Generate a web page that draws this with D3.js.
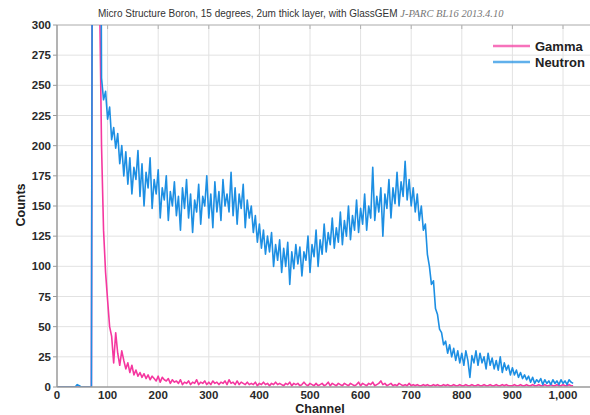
<!DOCTYPE html>
<html>
<head>
    <title>Micro Structure Boron - GlassGEM</title>
    <script src="https://d3js.org/d3.v7.min.js"></script>
    <style>
        body { margin: 0; background: #fff; }
        svg { display: block; font-family: "Liberation Sans", Arial, sans-serif; }
        .grid line { stroke: #e2e2e2; stroke-width: 1; }
        .tick-label { font-size: 11.5px; font-weight: bold; fill: #2a2a2a; }
        .axis-title { font-size: 12.5px; font-weight: bold; fill: #222; }
        .legend-text { font-size: 13px; font-weight: bold; fill: #222; }
    </style>
</head>
<body>
    <div id="chart"></div>
    <script>
        // channel bins: every 4th channel, 0 .. 1020
        const channelStep = 4;

        // counts per bin, 16 bins (64 channels) per row
        const neutronCounts = [
            0, 0, 0, 0, 0, 0, 0, 0, 0, 0, 2, 1, 0, 0, 0, 0,
            0, 0, 900, 900, 900, 700, 256, 238, 245, 222, 232, 205, 215, 198, 210, 185,
            200, 175, 195, 168, 190, 160, 182, 172, 196, 158, 185, 150, 178, 165, 190, 148,
            172, 160, 180, 140, 165, 155, 175, 138, 162, 150, 170, 142, 158, 130, 165, 148,
            172, 140, 160, 128, 155, 145, 168, 135, 158, 150, 175, 140, 160, 132, 170, 145,
            162, 138, 172, 150, 160, 145, 178, 142, 165, 135, 160, 148, 168, 132, 155, 140,
            150, 128, 142, 120, 135, 115, 130, 110, 125, 112, 128, 100, 118, 105, 122, 95,
            115, 100, 120, 85, 112, 98, 118, 102, 116, 92, 112, 105, 125, 95, 118, 108,
            130, 100, 122, 110, 135, 112, 128, 118, 140, 115, 132, 120, 145, 118, 138, 125,
            150, 122, 142, 130, 155, 128, 148, 135, 160, 130, 150, 140, 182, 138, 158, 145,
            165, 125, 160, 148, 172, 140, 165, 152, 178, 150, 170, 158, 187, 155, 172, 150,
            165, 145, 160, 138, 150, 130, 135, 110, 100, 85, 88, 65, 60, 48, 45, 35,
            38, 28, 35, 25, 32, 22, 30, 20, 28, 18, 30, 22, 8, 26, 20, 30,
            18, 28, 20, 25, 15, 28, 18, 24, 15, 22, 14, 25, 12, 20, 14, 18,
            10, 16, 10, 14, 8, 12, 7, 10, 6, 9, 4, 8, 3, 6, 4, 7,
            2, 6, 3, 5, 2, 6, 3, 5, 2, 6, 3, 5, 2, 6, 4, 3
        ];

        const gammaCounts = [
            0, 0, 0, 0, 0, 0, 0, 0, 0, 0, 0, 0, 0, 0, 0, 0,
            0, 0, 900, 900, 900, 330, 200, 130, 95, 72, 50, 42, 20, 45, 28, 18,
            30, 22, 15, 20, 12, 18, 10, 14, 9, 12, 8, 11, 7, 10, 6, 9,
            7, 5, 9, 4, 8, 6, 5, 7, 3, 6, 4, 5, 3, 6, 2, 4,
            3, 5, 2, 4, 3, 6, 2, 4, 3, 5, 2, 4, 2, 5, 3, 4,
            2, 4, 3, 5, 2, 6, 3, 4, 2, 5, 2, 4, 3, 2, 4, 2,
            3, 2, 4, 1, 3, 2, 4, 2, 3, 1, 3, 2, 4, 2, 3, 2,
            1, 3, 2, 4, 1, 3, 2, 3, 1, 2, 4, 2, 1, 3, 2, 1,
            3, 1, 2, 3, 1, 2, 4, 1, 3, 2, 1, 3, 2, 1, 3, 2,
            1, 3, 2, 1, 2, 4, 1, 3, 2, 1, 3, 2, 4, 1, 2, 3,
            5, 2, 3, 1, 2, 3, 1, 2, 1, 3, 2, 1, 2, 1, 3, 1,
            2, 1, 2, 1, 1, 2, 1, 2, 1, 1, 2, 1, 2, 1, 1, 2,
            1, 2, 1, 1, 2, 1, 1, 2, 1, 1, 2, 1, 1, 2, 1, 1,
            2, 1, 1, 2, 1, 1, 2, 1, 1, 2, 1, 1, 2, 1, 2, 1,
            1, 1, 2, 1, 1, 2, 1, 1, 2, 1, 1, 2, 1, 1, 2, 1,
            1, 2, 1, 1, 2, 1, 1, 2, 1, 1, 2, 1, 1, 2, 1, 1
        ];

        const xTicks = [0, 100, 200, 300, 400, 500, 600, 700, 800, 900, 1000];
        const yTicks = [0, 25, 50, 75, 100, 125, 150, 175, 200, 225, 250, 275, 300];
        const seriesNames = ["Gamma", "Neutron"];
        const seriesColors = ["#f5379f", "#1d8fe3"];

        const width = 590, height = 415;
        const margin = {top: 25, right: 0, bottom: 28, left: 57};

        var xScale = d3.scaleLinear().domain([0, 1060]).range([margin.left, margin.left + 1060 * 0.506]);
        var yScale = d3.scaleLinear().domain([0, 300]).range([height - margin.bottom, margin.top]);

        var svg = d3.select("#chart").append("svg")
            .attr("width", width)
            .attr("height", height);

        svg.append("defs").append("clipPath")
            .attr("id", "plot-clip")
            .append("rect")
            .attr("x", margin.left)
            .attr("y", margin.top)
            .attr("width", width - margin.left)
            .attr("height", yScale(0) - margin.top);

        // grid
        var grid = svg.append("g").attr("class", "grid");
        grid.selectAll(".vline")
            .data(xTicks.slice(1))
            .enter().append("line")
            .attr("x1", function(d) { return xScale(d); })
            .attr("x2", function(d) { return xScale(d); })
            .attr("y1", margin.top)
            .attr("y2", yScale(0));
        grid.selectAll(".hline")
            .data(yTicks.slice(1))
            .enter().append("line")
            .attr("x1", margin.left)
            .attr("x2", width)
            .attr("y1", function(d) { return yScale(d); })
            .attr("y2", function(d) { return yScale(d); });

        // top border with little inner ticks
        svg.append("line")
            .attr("x1", margin.left).attr("x2", width)
            .attr("y1", margin.top).attr("y2", margin.top)
            .style("stroke", "#b8b8b8").style("stroke-width", 1);
        svg.selectAll(".top-tick")
            .data(xTicks.slice(1))
            .enter().append("line")
            .attr("x1", function(d) { return xScale(d); })
            .attr("x2", function(d) { return xScale(d); })
            .attr("y1", margin.top)
            .attr("y2", margin.top + 4)
            .style("stroke", "#b0b0b0");

        // series
        var series = [gammaCounts, neutronCounts];
        var line = d3.line()
            .x(function(d, i) { return xScale(i * channelStep); })
            .y(function(d) { return yScale(d); });

        svg.append("g")
            .attr("clip-path", "url(#plot-clip)")
            .selectAll("path")
            .data(series)
            .enter().append("path")
            .attr("d", line)
            .style("fill", "none")
            .style("stroke", function(d, i) { return seriesColors[i]; })
            .style("stroke-width", 1.6)
            .style("stroke-linejoin", "round");

        // axes lines
        svg.append("line")
            .attr("x1", margin.left).attr("x2", margin.left)
            .attr("y1", margin.top).attr("y2", yScale(0))
            .style("stroke", "#9a9a9a").style("stroke-width", 1.5);
        svg.append("line")
            .attr("x1", margin.left).attr("x2", width)
            .attr("y1", yScale(0)).attr("y2", yScale(0))
            .style("stroke", "#9a9a9a").style("stroke-width", 1.5);

        // y ticks and labels
        svg.selectAll(".y-tick")
            .data(yTicks)
            .enter().append("line")
            .attr("x1", margin.left - 4)
            .attr("x2", margin.left)
            .attr("y1", function(d) { return yScale(d); })
            .attr("y2", function(d) { return yScale(d); })
            .style("stroke", "#9a9a9a");
        svg.selectAll(".y-label")
            .data(yTicks)
            .enter().append("text")
            .attr("class", "tick-label")
            .attr("x", margin.left - 6)
            .attr("y", function(d) { return yScale(d) + 4; })
            .style("text-anchor", "end")
            .text(function(d) { return d; });

        // x labels
        svg.selectAll(".x-label")
            .data(xTicks)
            .enter().append("text")
            .attr("class", "tick-label")
            .attr("x", function(d) { return xScale(d); })
            .attr("y", yScale(0) + 12)
            .style("text-anchor", "middle")
            .text(function(d) { return d3.format(",")(d); });

        // axis titles
        svg.append("text")
            .attr("class", "axis-title")
            .attr("transform", "translate(25," + 205 + ") rotate(-90)")
            .style("text-anchor", "middle")
            .text("Counts");

        svg.append("text")
            .attr("class", "axis-title")
            .attr("x", 320)
            .attr("y", 413)
            .style("text-anchor", "middle")
            .text("Channel");

        // title
        var title = svg.append("text")
            .attr("x", 98)
            .attr("y", 17)
            .style("font-size", "10px")
            .style("fill", "#333");
        title.append("tspan")
            .text("Micro Structure Boron, 15 degrees, 2um thick layer, with GlassGEM ");
        title.append("tspan")
            .style("font-family", "'Liberation Serif', 'Times New Roman', serif")
            .style("font-style", "italic")
            .style("font-size", "10.5px")
            .style("fill", "#777")
            .text("J-PARC BL16 2013.4.10");

        // legend
        var legend = svg.append("g");
        seriesNames.forEach(function(name, i) {
            var ly = 46 + i * 16;
            legend.append("line")
                .attr("x1", 493).attr("x2", 530)
                .attr("y1", ly).attr("y2", ly)
                .style("stroke", seriesColors[i])
                .style("stroke-width", 2.5)
                .style("opacity", 0.7);
            legend.append("text")
                .attr("class", "legend-text")
                .attr("x", 535)
                .attr("y", ly + 5)
                .text(name);
        });
    </script>
</body>
</html>
